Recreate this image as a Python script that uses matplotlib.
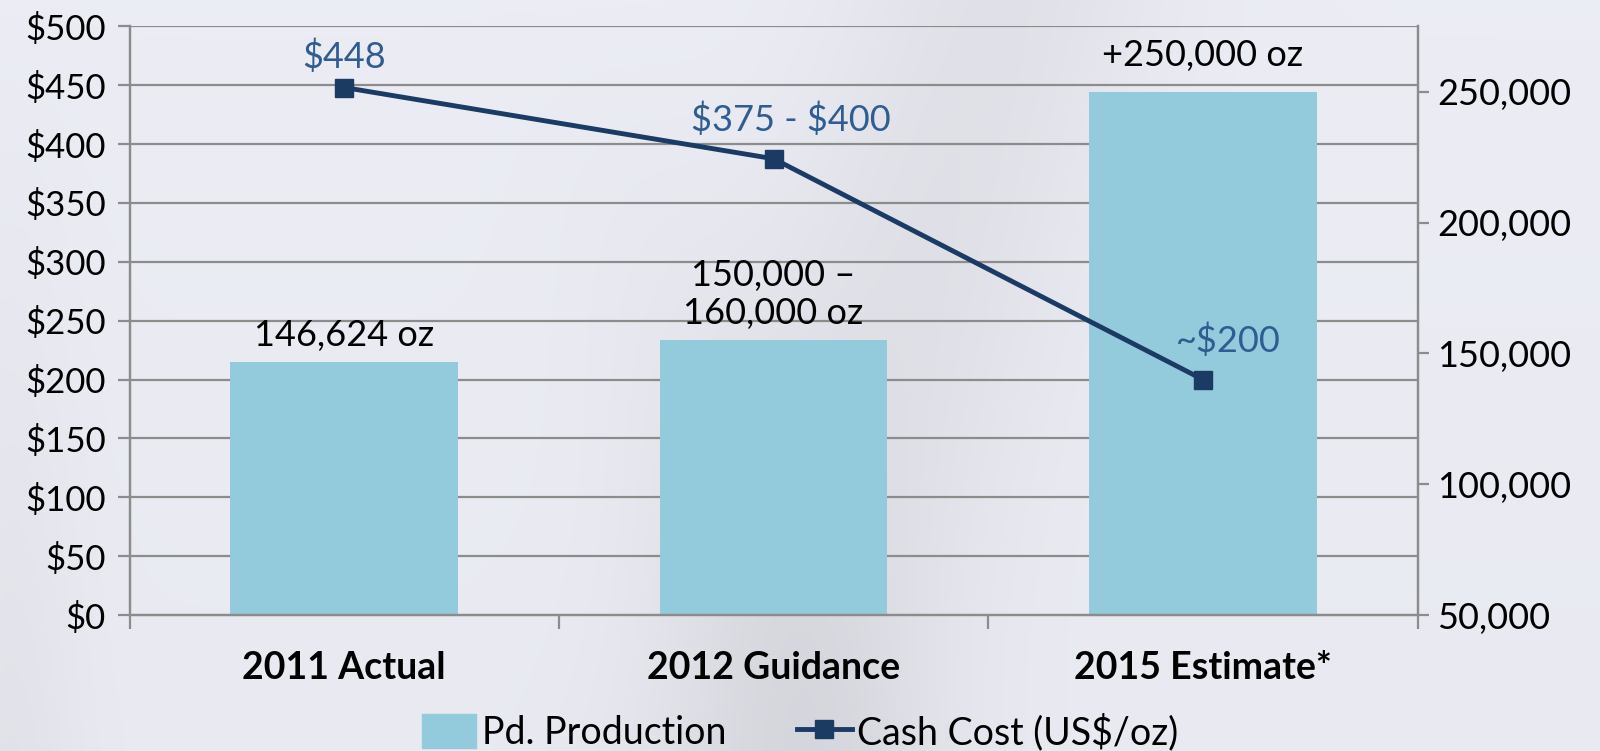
import numpy as np
import matplotlib
matplotlib.use("Agg")
from matplotlib import pyplot as plt
from matplotlib.lines import Line2D
from matplotlib.patches import Patch
from matplotlib.ticker import FuncFormatter, FixedLocator
from matplotlib.transforms import blended_transform_factory

# data
categories = ["2011 Actual", "2012 Guidance", "2015 Estimate*"]
production = [146624, 155000, 250000]          # oz, right axis
cash_cost = [448, 387.5, 200]                  # US$/oz, left axis
bar_labels = ["146,624 oz", "150,000 \u2013\n160,000 oz", "+250,000 oz"]
cost_labels = ["\\$448", "\\$375 - \\$400", "~\\$200"]
cost_label_dx = [0, 17, 25]    # px shift of the cost labels
cost_label_dy = [14, 22, 22]
bar_label_dy = [10, 10, 20]

bar_color = "#93cbdc"
line_color = "#1b3a64"
label_blue = "#2f5d92"
grid_color = "#8c8c8c"

plt.rcParams['font.family'] = ['Lato', 'DejaVu Sans']

fig = plt.figure(figsize=(16, 7.51), dpi=100)

# background: light grey with soft darker streaks
bg = fig.add_axes([0, 0, 1, 1], zorder=0)
yy, xx = np.mgrid[0:751, 0:1600]
shade = 0.925 - 0.01 * (yy / 751)
shade -= 0.045 * np.exp(-((xx - 1000 + 0.3 * yy) / 160.0) ** 2)
shade -= 0.035 * np.exp(-((xx - 600 - 0.3 * yy) / 120.0) ** 2) * (yy / 751)
shade -= 0.03 * np.exp(-((xx - 10) / 70.0) ** 2) * (yy / 751)
rgb = np.dstack([shade, shade * 1.005, shade * 1.035]).clip(0, 1)
bg.imshow(rgb, aspect="auto", extent=[0, 1, 0, 1])
bg.axis("off")

ax1 = fig.add_axes([0.081, 0.181, 0.805, 0.784])
ax2 = ax1.twinx()
ax1.set_zorder(3)
ax2.set_zorder(2)
ax1.patch.set_visible(False)
ax2.patch.set_visible(False)

x = np.arange(len(categories))

# bars on the production axis
ax2.bar(x, production, width=0.53, color=bar_color, zorder=2)
ax2.set_ylim(50000, 275000)
ax2.yaxis.set_major_locator(FixedLocator([50000, 100000, 150000, 200000, 250000]))
ax2.yaxis.set_major_formatter(FuncFormatter(lambda v, p: f"{int(v):,}"))

# cost line
ax1.plot(x, cash_cost, color=line_color, lw=3.5, marker="s", ms=13, zorder=5)
ax1.set_ylim(0, 500)
ax1.set_yticks(np.arange(0, 501, 50))
ax1.yaxis.set_major_formatter(FuncFormatter(lambda v, p: f"${int(v)}"))
ax1.set_xlim(-0.5, 2.5)

# gridlines behind the bars, following the cost axis
tr = blended_transform_factory(ax2.transAxes, ax1.transData)
for v in np.arange(50, 501, 50):
    ax2.add_line(Line2D([0, 1], [v, v], transform=tr, color=grid_color,
                        lw=1.6, zorder=1))

for ax in (ax1, ax2):
    for s in ax.spines.values():
        s.set_color(grid_color)
        s.set_linewidth(1.6)
    ax.spines["top"].set_visible(False)

ax1.tick_params(axis="y", length=9, width=1.6, color=grid_color, labelsize=25, pad=8)
ax2.tick_params(axis="y", length=8, width=1.6, color=grid_color, labelsize=26, pad=6)

ax1.set_xticks(x)
ax1.set_xticklabels(categories, fontsize=27, fontweight="bold")
ax1.set_xticks([-0.5, 0.5, 1.5, 2.5], minor=True)
ax1.tick_params(axis="x", which="major", length=0, pad=26)
ax1.tick_params(axis="x", which="minor", length=10, width=1.6, color=grid_color)

# labels
for xi, v, t, dy in zip(x, production, bar_labels, bar_label_dy):
    ax2.annotate(t, (xi, v), xytext=(0, dy), textcoords="offset pixels",
                 ha="center", va="bottom", fontsize=26, color="black",
                 linespacing=1.2)
for xi, v, t, dx, dy in zip(x, cash_cost, cost_labels, cost_label_dx, cost_label_dy):
    ax1.annotate(t, (xi, v), xytext=(dx, dy), textcoords="offset pixels",
                 ha="center", va="bottom", fontsize=26, color=label_blue)

handles = [Patch(color=bar_color),
           Line2D([], [], color=line_color, lw=3.5, marker="s", ms=13)]
fig.legend(handles, ["Pd. Production", "Cash Cost (US$/oz)"],
           loc="center", bbox_to_anchor=(0.5, 0.025), ncol=2, frameon=False,
           fontsize=27, handlelength=1.45, handleheight=1.0,
           handletextpad=0.15, columnspacing=1.9)

fig.savefig("out.png", dpi=100)
